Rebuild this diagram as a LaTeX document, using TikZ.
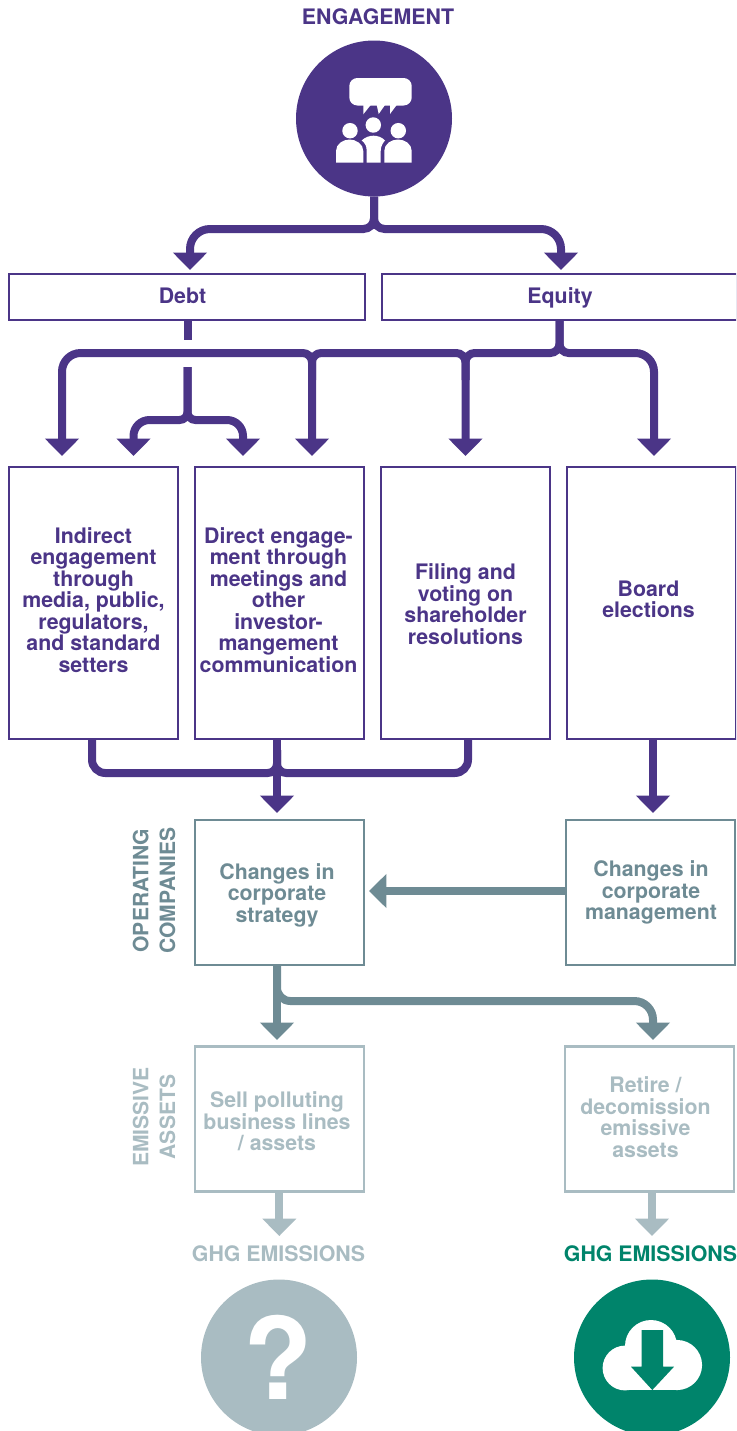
\documentclass[tikz,border=0pt]{standalone}
\usepackage{fontspec}
\setmainfont{TeX Gyre Heros}
\usetikzlibrary{arrows.meta}
\definecolor{pur}{HTML}{4B3587}
\definecolor{tea}{HTML}{6E8B94}
\definecolor{lig}{HTML}{A9BCC2}
\definecolor{gre}{HTML}{00846B}
\tikzset{
  x=0.75pt,y=-0.75pt,
  every node/.style={font=\fontsize{16}{16.1}\selectfont\bfseries,align=center,inner sep=0pt,outer sep=0pt},
  every label/.style={font=\fontsize{16}{16.1}\selectfont\bfseries,align=center},
  tbox/.style={draw=#1,line width=1.7pt,fill=white,rectangle},
  wbox/.style={minimum width=355.5*0.75pt,minimum height=46*0.75pt},
  hbox/.style={minimum width=169*0.75pt,minimum height=272*0.75pt},
  sbox/.style={minimum width=169*0.75pt,minimum height=145*0.75pt},
  bt/.style n args={4}{label={[text=#1,shift={(#2,#3)}]center:{#4}}},
  conn/.style={draw=#1,line width=6pt,-{Triangle[width=24.75pt,length=13pt]}},
  plain/.style={draw=#1,line width=6pt},
  bigc/.style={circle,fill=#1,minimum size=156*0.75pt},
  head/.style={font=\fontsize{16}{16.1}\selectfont\bfseries},
  side/.style={rotate=90,font=\fontsize{15.8}{20}\selectfont\bfseries},
}
\begin{document}
\begin{tikzpicture}
\clip (0,0) rectangle (736,1431);
% titles
\node[text=pur,head] (tEng) at (378,17) {ENGAGEMENT};
\node[bigc=pur] (engage) at (374,118.5) {};
% people icon
\fill[white,rounded corners=6pt] (349.3,78) rectangle (411.7,105.5);
\fill[white] (363.3,105) -- (363.3,114.3) -- (370.7,105) -- cycle
  (376.7,105) -- (378.7,114) -- (385,105) -- cycle
  (390,105) -- (390,114) -- (396.7,105) -- cycle;
\fill[white] (350,130.7) circle[radius=5.8pt] (373.3,125) circle[radius=5.8pt] (398.3,130.7) circle[radius=5.8pt];
\fill[white] (336,162.7) -- (336,151) .. controls (336,144) and (343,139.5) .. (349.5,139.5) .. controls (356,139.5) and (363.3,144) .. (363.3,151) -- (363.3,162.7) -- cycle;
\fill[white] (384.3,162.7) -- (384.3,151) .. controls (384.3,144) and (391,139.5) .. (398,139.5) .. controls (405,139.5) and (411.7,144) .. (411.7,151) -- (411.7,162.7) -- cycle;
\fill[white] (366.7,162.7) -- (366.7,151) .. controls (366.7,146) and (365,143) .. (361.7,140.5) .. controls (365,137) and (370,135.7) .. (373.5,135.7) .. controls (377,135.7) and (382,137) .. (385,140.5) .. controls (383,143) and (380.7,146) .. (380.7,151) -- (380.7,162.7) -- cycle;

% boxes
\node[tbox=pur,wbox,bt={pur}{-4.5}{-1}{Debt}] (debt) at (187,297) {};
\node[tbox=pur,wbox,bt={pur}{0.5}{1}{Equity}] (equity) at (559.5,297) {};
\node[tbox=pur,hbox,bt={pur}{0}{-3}{Indirect\\engagement\\through\\media, public,\\regulators,\\and standard\\setters}] (b1) at (93.5,603) {};
\node[tbox=pur,hbox,bt={pur}{-1}{-3}{Direct engage-\\ment through\\meetings and\\other\\investor-\\mangement\\communication}] (b2) at (279.5,603) {};
\node[tbox=pur,hbox,bt={pur}{0}{1}{Filing and\\voting on\\shareholder\\resolutions}] (b3) at (465.5,603) {};
\node[tbox=pur,hbox,bt={pur}{-3}{-3.5}{Board\\elections}] (b4) at (651.5,603) {};
\node[tbox=tea,sbox,line width=2pt,bt={tea}{-2.5}{2.5}{Changes in\\corporate\\strategy}] (strat) at (279.5,892.5) {};
\node[tbox=tea,sbox,line width=2pt,bt={tea}{0.5}{0}{Changes in\\corporate\\management}] (mgmt) at (650.5,892.5) {};
\node[tbox=lig,sbox,line width=2.2pt,bt={lig}{-2.5}{2.5}{Sell polluting\\business lines\\/ assets}] (sell) at (279.5,1119) {};
\node[tbox=lig,sbox,line width=2.2pt,bt={lig}{-4}{-2}{Retire /\\decomission\\emissive\\assets}] (retire) at (649.5,1119) {};
\node[text=tea,side] (lOp) at (154,890.5) {OPERATING\\COMPANIES};
\node[text=lig,side] (lEm) at (154,1117) {EMISSIVE\\ASSETS};
\node[text=lig,head] (g1) at (278.5,1254) {GHG EMISSIONS};
\node[text=gre,head] (g2) at (650.5,1254) {GHG EMISSIONS};
\node[bigc=lig] (qm) at (279,1357.5) {};
\node[text=white,font=\fontsize{85}{85}\selectfont\bfseries] (qmt) at (278,1357.5) {?};
\node[bigc=gre] (down) at (652,1357.5) {};
% cloud
\fill[white] (651,1346) circle[radius=19.5pt] (625,1368) circle[radius=16.8pt] (677,1365) circle[radius=18.8pt];
\fill[white] (625,1360) rectangle (677,1390);
\fill[gre] (641.7,1330) -- (663,1330) -- (663,1366.7) -- (674,1366.7) -- (652.3,1390) -- (631,1366.7) -- (641.7,1366.7) -- cycle;

% coordinates
\coordinate (jE) at (374,229);
\coordinate (eL) at (190,229);
\coordinate (eR) at (561,229);
\coordinate (tEL) at (190,270);
\coordinate (tER) at (561,270);
\coordinate (dA) at (187.5,340);
\coordinate (dB) at (187.5,367);
\coordinate (dJ) at (187.5,420);
\coordinate (tA) at (62,456);
\coordinate (tB) at (133.5,456);
\coordinate (tC) at (243,456);
\coordinate (tD) at (312,456);
\coordinate (tE) at (465.5,456);
\coordinate (tF) at (654,456);
\coordinate (qJ) at (559.5,353);
\coordinate (hA) at (62,353);
\coordinate (hD) at (312,353);
\coordinate (hE) at (465.5,353);
\coordinate (hF) at (654,353);
\coordinate (uD) at (312,380);
\coordinate (uE) at (465.5,380);
\coordinate (dL) at (133.5,420);
\coordinate (dR) at (243,420);
\coordinate (s1) at (92,739);
\coordinate (s2) at (277,739);
\coordinate (s3) at (468,739);
\coordinate (j1) at (92,773);
\coordinate (j3) at (468,773);
\coordinate (j2) at (277,773);
\coordinate (u2) at (277,750);
\coordinate (tG) at (277,813);
\coordinate (s4) at (653,739);
\coordinate (tH) at (653,813);
\coordinate (tI) at (369,891);
\coordinate (mL) at (566,891);
\coordinate (s5) at (277,965);
\coordinate (tJ) at (277,1040);
\coordinate (r1) at (653,1001);
\coordinate (r0) at (277,1001);
\coordinate (tK) at (653,1040);
\coordinate (s6) at (279.3,1191);
\coordinate (tL) at (279.3,1236);
\coordinate (s7) at (652,1191);
\coordinate (tM) at (652,1236);

% connectors
\draw[conn=pur] (engage.south) [rounded corners=8pt] -- (jE) [rounded corners=15pt] -- (eL) -- (tEL);
\draw[conn=pur] (engage.south) [rounded corners=8pt] -- (jE) [rounded corners=15pt] -- (eR) -- (tER);
\draw[plain=pur] (debt.south -| dA) -- (dA);
\draw[conn=pur] (equity.south) [rounded corners=7pt] -- (qJ) -- (hE) -- (tE);
\draw[conn=pur] (equity.south) [rounded corners=7pt] -- (qJ) [rounded corners=14pt] -- (hF) -- (tF);
\draw[conn=pur,rounded corners=7pt] (uE) -- (hE) -- (hD) -- (tD);
\draw[conn=pur] (uD) [rounded corners=7pt] -- (hD) [rounded corners=14pt] -- (hA) -- (tA);
\draw[conn=pur] (dB) [rounded corners=6pt] -- (dJ) [rounded corners=12pt] -- (dL) -- (tB);
\draw[conn=pur] (dB) [rounded corners=6pt] -- (dJ) [rounded corners=12pt] -- (dR) -- (tC);
\draw[plain=pur,rounded corners=7pt] (u2) -- (j2) [rounded corners=10pt] -- (j1) -- (s1);
\draw[plain=pur,rounded corners=7pt] (u2) -- (j2) [rounded corners=10pt] -- (j3) -- (s3);
\draw[conn=pur] (s2) -- (tG);
\draw[conn=pur] (s4) -- (tH);
\draw[conn=tea] (mL) -- (tI);
\draw[conn=tea] (s5) -- (tJ);
\draw[conn=tea] (s5) [rounded corners=10pt] -- (r0) [rounded corners=14pt] -- (r1) -- (tK);
\draw[conn=lig] (s6) -- (tL);
\draw[conn=lig] (s7) -- (tM);
\end{tikzpicture}
\end{document}
